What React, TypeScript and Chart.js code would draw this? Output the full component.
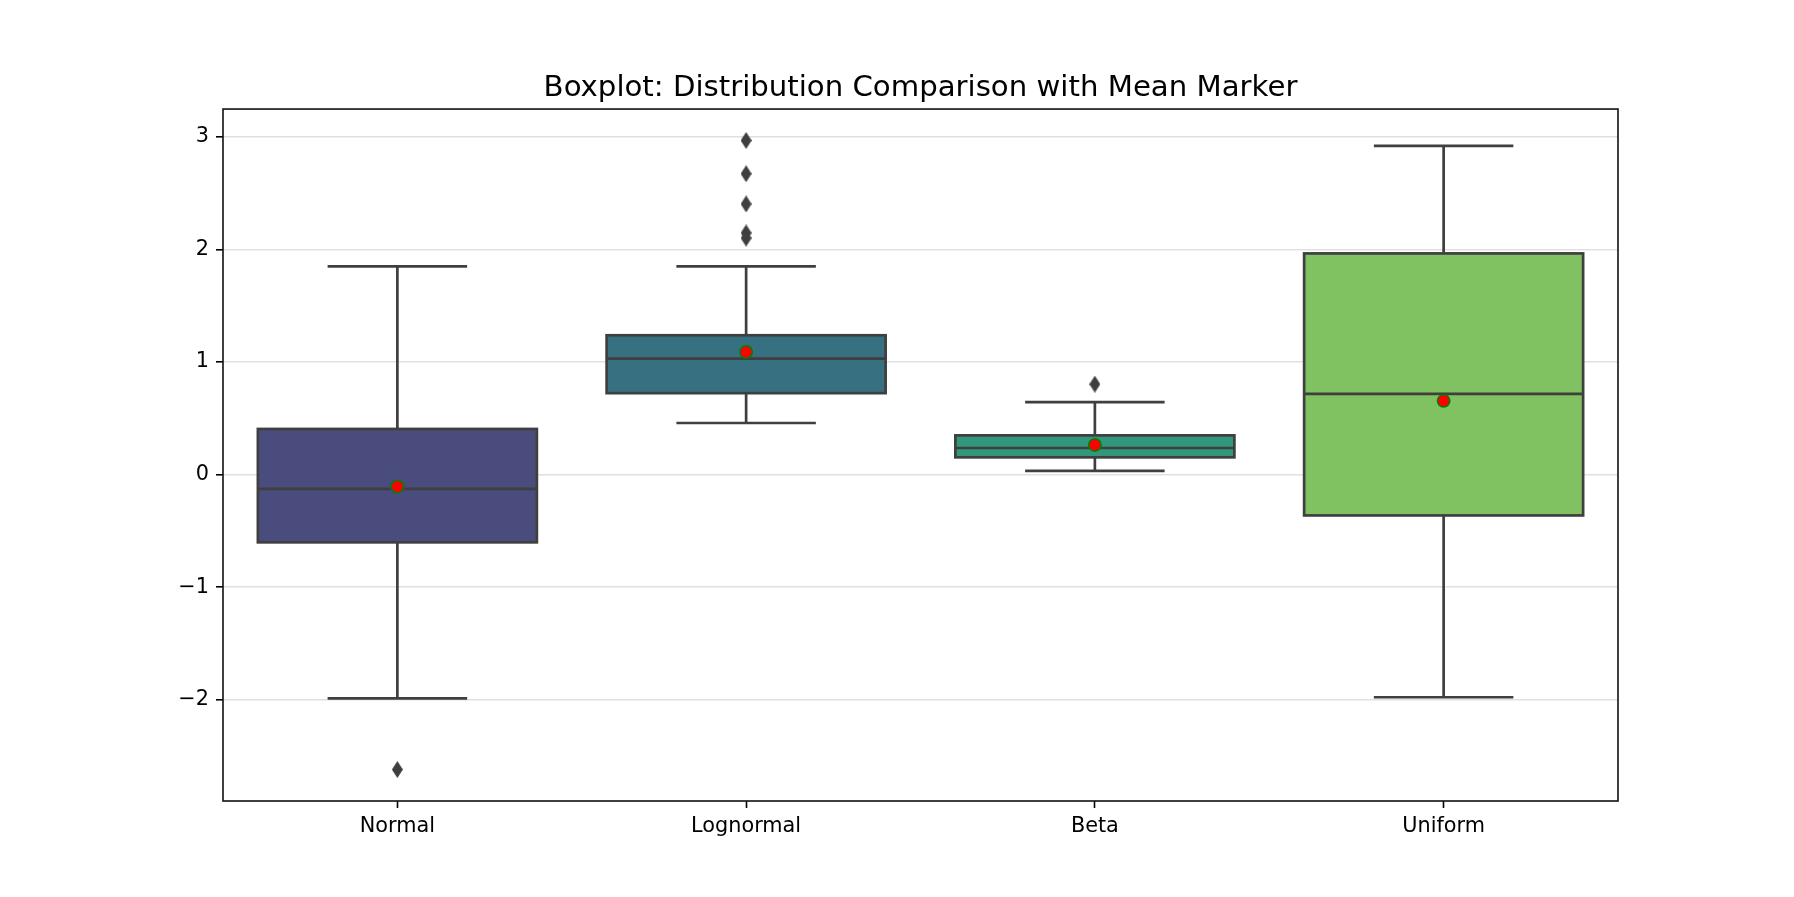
import React, { useEffect, useRef } from 'react';
import { Chart, registerables } from 'chart.js';

Chart.register(...registerables);

const categories = ['Normal', 'Lognormal', 'Beta', 'Uniform'];
const q1 = [-0.602, 0.723, 0.153, -0.363];
const q3 = [0.405, 1.237, 0.348, 1.964];
const medians = [-0.127, 1.03, 0.236, 0.717];
const whiskerLow = [-1.987, 0.458, 0.033, -1.978];
const whiskerHigh = [1.849, 1.849, 0.644, 2.92];
const means = [-0.106, 1.089, 0.263, 0.655];
const outlierCategories = ['Normal', 'Lognormal', 'Lognormal', 'Lognormal', 'Lognormal', 'Lognormal', 'Beta'];
const outlierValues = [-2.62, 2.967, 2.672, 2.403, 2.146, 2.1, 0.803];
const yTicks = [-2, -1, 0, 1, 2, 3];
const boxColors = ['#4a4c7e', '#377181', '#33977c', '#80c161'];

const TITLE = 'Boxplot: Distribution Comparison with Mean Marker';
const LINE = '#3f3f3f';
const FONT = 'DejaVu Sans';

const allValues = [...whiskerLow, ...whiskerHigh, ...outlierValues, ...q1, ...q3];
const dMin = Math.min(...allValues);
const dMax = Math.max(...allValues);
const yPad = 0.05 * (dMax - dMin);

function makeDiamond(): HTMLCanvasElement {
  const c = document.createElement('canvas');
  c.width = 11;
  c.height = 17;
  const g = c.getContext('2d')!;
  g.fillStyle = LINE;
  g.beginPath();
  g.moveTo(5.5, 0);
  g.lineTo(11, 8.5);
  g.lineTo(5.5, 17);
  g.lineTo(0, 8.5);
  g.closePath();
  g.fill();
  return c;
}

const boxPlugin = {
  id: 'boxParts',
  afterDatasetDraw(chart: any, args: any) {
    if (args.index !== 0) return;
    const { ctx } = chart;
    const y = chart.scales.y;
    const meta = chart.getDatasetMeta(0);
    ctx.save();
    ctx.strokeStyle = LINE;
    ctx.lineWidth = 2.7;
    ctx.lineCap = 'butt';
    const line = (x1: number, y1: number, x2: number, y2: number) => {
      ctx.beginPath();
      ctx.moveTo(x1, y1);
      ctx.lineTo(x2, y2);
      ctx.stroke();
    };
    categories.forEach((_c, i) => {
      const bar = meta.data[i];
      const cx = bar.x;
      const w = bar.width;
      const cap = w / 4;
      const yq1 = y.getPixelForValue(q1[i]);
      const yq3 = y.getPixelForValue(q3[i]);
      const ylo = y.getPixelForValue(whiskerLow[i]);
      const yhi = y.getPixelForValue(whiskerHigh[i]);
      const ym = y.getPixelForValue(medians[i]);
      line(cx, yq3, cx, yhi);
      line(cx - cap, yhi, cx + cap, yhi);
      line(cx, yq1, cx, ylo);
      line(cx - cap, ylo, cx + cap, ylo);
      ctx.lineJoin = 'miter';
      ctx.strokeRect(cx - w / 2, yq3, w, yq1 - yq3);
      line(cx - w / 2, ym, cx + w / 2, ym);
    });
    ctx.restore();
  },
  afterDraw(chart: any) {
    const { ctx, chartArea } = chart;
    ctx.save();
    ctx.strokeStyle = '#111';
    ctx.lineWidth = 1.6;
    ctx.strokeRect(chartArea.left, chartArea.top, chartArea.right - chartArea.left, chartArea.bottom - chartArea.top);
    ctx.restore();
  },
};

export default function App() {
  const ref = useRef<HTMLCanvasElement>(null);
  useEffect(() => {
    document.body.style.margin = '0';
    const diamond = makeDiamond();
    const chart = new Chart(ref.current as HTMLCanvasElement, {
      type: 'bar',
      data: {
        labels: categories,
        datasets: [
          {
            type: 'bar',
            data: categories.map((_c, i) => [q1[i], q3[i]]) as any,
            backgroundColor: boxColors,
            borderWidth: 0,
            borderSkipped: false,
            barPercentage: 0.8,
            categoryPercentage: 1,
            order: 2,
          } as any,
          {
            type: 'line',
            data: means.map((m, i) => ({ x: categories[i], y: m })) as any,
            showLine: false,
            pointStyle: 'circle',
            pointRadius: 6.2,
            pointBackgroundColor: 'red',
            pointBorderColor: 'green',
            pointBorderWidth: 1.5,
            order: 1,
          } as any,
          {
            type: 'line',
            data: outlierValues.map((v, i) => ({ x: outlierCategories[i], y: v })) as any,
            showLine: false,
            pointStyle: diamond,
            pointRadius: 6,
            order: 0,
          } as any,
        ],
      },
      options: {
        responsive: false,
        animation: false,
        devicePixelRatio: 1,
        layout: { padding: { left: 0, right: 176, top: 0, bottom: 0 } },
        plugins: {
          legend: { display: false },
          tooltip: { enabled: false },
          title: {
            display: true,
            fullSize: false,
            text: TITLE,
            color: '#000',
            font: { family: FONT, size: 29.2, weight: 'normal', lineHeight: 1.2 },
            padding: { top: 71, bottom: 3 },
          },
        },
        scales: {
          x: {
            type: 'category',
            offset: true,
            border: { display: false },
            grid: {
              drawOnChartArea: false,
              drawTicks: true,
              tickLength: 7,
              tickColor: '#000',
              tickWidth: 1.6,
              offset: false,
            },
            ticks: {
              color: '#000',
              padding: 6,
              font: { family: FONT, size: 20.8 },
            },
            afterFit: (s: any) => {
              s.height = 96;
            },
          },
          y: {
            type: 'linear',
            min: dMin - yPad,
            max: dMax + yPad,
            z: 1,
            border: { display: false },
            grid: {
              color: 'rgba(211,211,211,0.7)',
              lineWidth: 1.6,
              drawTicks: true,
              tickLength: 7,
              tickColor: '#000',
              tickWidth: 1.6,
            },
            ticks: {
              color: '#000',
              padding: 7,
              font: { family: FONT, size: 20.8 },
              callback: (v: any) => (Number(v) < 0 ? '\u2212' + Math.abs(Number(v)) : String(v)),
            },
            afterBuildTicks: (s: any) => {
              s.ticks = yTicks.map((v) => ({ value: v }));
            },
            afterFit: (s: any) => {
              s.width = 223;
            },
          },
        },
      },
      plugins: [boxPlugin],
    });
    return () => chart.destroy();
  }, []);
  return (
    <div style={{ width: 1794, height: 897 }}>
      <canvas ref={ref} width={1794} height={897} style={{ display: 'block' }} />
    </div>
  );
}
